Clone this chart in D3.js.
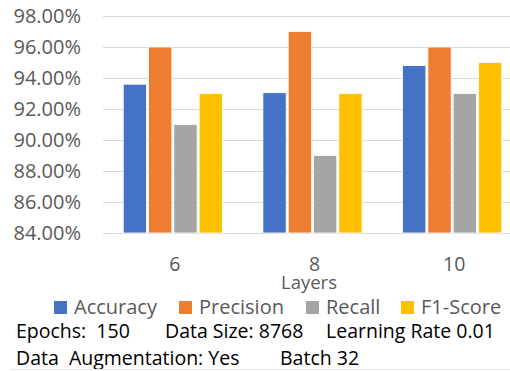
<!DOCTYPE html>
<html>
<head>
<meta charset="utf-8">
<script src="https://cdn.jsdelivr.net/npm/d3@7/dist/d3.min.js"></script>
<style>
  html, body { margin: 0; padding: 0; background: #fff; }
  svg { display: block; }
  text { font-family: "Open Sans", "Noto Sans", sans-serif; white-space: pre; }
</style>
</head>
<body>
<svg id="chart" width="510" height="371"></svg>
<script>
// Layer counts on the x axis
const layers = ["6", "8", "10"];
// Metric names and colours
const metrics = ["Accuracy", "Precision", "Recall", "F1-Score"];
const colors = ["#4472C4", "#ED7D31", "#A5A5A5", "#FFC000"];
// Scores (%) per layer count, one array per metric
const accuracy = [93.6, 93.05, 94.8];
const precision = [96, 97, 96];
const recall = [91, 89, 93];
const f1Score = [93, 93, 95];
// Y axis ticks
const yTicks = [84, 86, 88, 90, 92, 94, 96, 98];
// Training settings printed under the legend
const notesLine1 = [["Epochs:  150", 16], ["Data Size: 8768", 165], ["Learning Rate 0.01", 326]];
const notesLine2 = [["Data  Augmentation: Yes", 16], ["Batch 32", 280]];

const series = [accuracy, precision, recall, f1Score];

const svg = d3.select("#chart");
const plotTop = 16, plotBottom = 233, plotLeft = 103, plotRight = 522;
const axisColor = "#595959";

const y = d3.scaleLinear().domain([84, 98]).range([plotBottom, plotTop]);
const x0 = d3.scaleBand().domain(layers).range([plotLeft, plotRight]).paddingInner(0).paddingOuter(0);
const x1 = d3.scaleBand().domain(metrics).range([0, x0.bandwidth()]).paddingInner(0.04).paddingOuter(0.78);

// Gridlines
svg.append("g").selectAll("line").data(yTicks).join("line")
  .attr("x1", plotLeft).attr("x2", plotRight)
  .attr("y1", d => y(d) + 0.5).attr("y2", d => y(d) + 0.5)
  .attr("stroke", "#d9d9d9").attr("stroke-width", 1);

// Y axis labels
const yAxis = d3.axisLeft(y).tickValues(yTicks).tickFormat(d => d.toFixed(2) + "%").tickSize(0).tickPadding(0);
const yg = svg.append("g").attr("transform", `translate(81,0)`).call(yAxis);
yg.select(".domain").remove();
yg.selectAll("text").attr("fill", axisColor).style("font-size", "20px").style("font-family", "'Open Sans', sans-serif");

// Bars
const groups = svg.append("g").selectAll("g").data(layers).join("g")
  .attr("transform", d => `translate(${x0(d)},0)`);
groups.selectAll("rect").data((d, i) => metrics.map((m, k) => ({ m, k, v: series[k][i] }))).join("rect")
  .attr("x", d => x1(d.m) + 0.5)
  .attr("width", x1.bandwidth() - 1)
  .attr("y", d => y(d.v))
  .attr("height", d => y(84) - y(d.v))
  .attr("fill", d => colors[d.k])
  .attr("stroke", "#ffffff").attr("stroke-width", 0.8);

// X axis labels
const xAxis = d3.axisBottom(x0).tickSize(0).tickPadding(0);
const xg = svg.append("g").attr("transform", `translate(2,271)`).call(xAxis);
xg.select(".domain").remove();
xg.selectAll("text").attr("fill", axisColor).style("font-size", "19.5px").attr("dy", null).attr("y", 0)
  .style("font-family", "'Open Sans', sans-serif");

// Axis title
svg.append("text").attr("x", 309).attr("y", 289)
  .attr("text-anchor", "middle").attr("fill", axisColor).style("font-size", "18.5px").text("Layers");

// Legend
const legendPos = [74, 199, 326, 421];
const lg = svg.append("g").selectAll("g").data(metrics).join("g")
  .attr("transform", (d, i) => `translate(${legendPos[i]},314)`);
lg.append("rect").attr("x", -20).attr("y", -13).attr("width", 13).attr("height", 13)
  .attr("fill", (d, i) => colors[i]);
lg.append("text").attr("x", 0).attr("fill", axisColor)
  .style("font-size", "20px").text(d => d);

// Settings text
svg.append("g").selectAll("text").data(notesLine1).join("text")
  .attr("x", d => d[1]).attr("y", 338).attr("fill", "#000")
  .style("font-size", "19.5px").text(d => d[0]);
svg.append("g").selectAll("text").data(notesLine2).join("text")
  .attr("x", d => d[1]).attr("y", 365).attr("fill", "#000")
  .style("font-size", "19.5px").text(d => d[0]);

// Thin rule at the foot
svg.append("line").attr("x1", 10).attr("x2", 510).attr("y1", 369.5).attr("y2", 369.5)
  .attr("stroke", "#e6e6e6");
</script>
</body>
</html>
